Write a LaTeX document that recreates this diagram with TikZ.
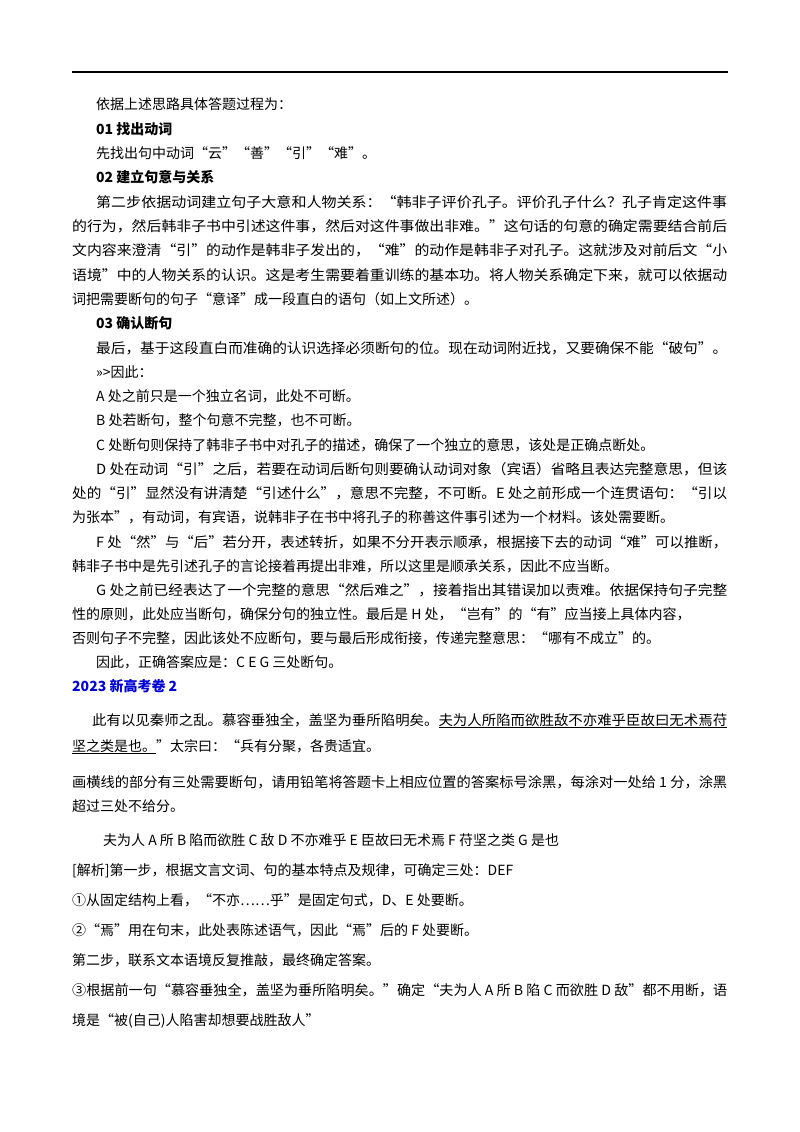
\documentclass[tikz,border=0pt]{standalone}
\usepackage{fontspec}
\usepackage{graphicx}
\setmainfont{Noto Sans CJK SC}
\newcommand\fw[2]{\resizebox{#1pt}{\height}{#2}}
\newcommand\ul[1]{\underline{#1}}
\begin{document}
\begin{tikzpicture}[x=1pt,y=-1pt,
  tl/.style={anchor=base west,inner sep=0pt,font=\fontsize{14}{16}\selectfont},
  hd/.style={tl,font=\fontsize{14}{16}\selectfont\bfseries}]
\useasboundingbox (0,0) rectangle (800,1132);
\draw[line width=1.6pt] (72,72) -- (728,72);
\node[tl] (l1) at (96,109) {依据上述思路具体答题过程为：};
\node[hd] (l2) at (96,134) {01 找出动词};
\node[tl] (l3) at (96,158) {先找出句中动词“云”“善”“引”“难”。};
\node[hd] (l4) at (96,182) {02 建立句意与关系};
\node[tl] (l5) at (96,207) {\fw{631}{第二步依据动词建立句子大意和人物关系：“韩非子评价孔子。评价孔子什么？孔子肯定这件事}};
\node[tl] (l6) at (72,231) {\fw{655}{的行为，然后韩非子书中引述这件事，然后对这件事做出非难。”这句话的句意的确定需要结合前后}};
\node[tl] (l7) at (72,255) {\fw{655}{文内容来澄清“引”的动作是韩非子发出的，“难”的动作是韩非子对孔子。这就涉及对前后文“小}};
\node[tl] (l8) at (72,280) {\fw{655}{语境”中的人物关系的认识。这是考生需要着重训练的基本功。将人物关系确定下来，就可以依据动}};
\node[tl] (l9) at (72,304) {词把需要断句的句子“意译”成一段直白的语句（如上文所述）。};
\node[hd] (l10) at (96,328) {03 确认断句};
\node[tl] (l11) at (96,353) {\fw{631}{最后，基于这段直白而准确的认识选择必须断句的位。现在动词附近找，又要确保不能“破句”。}};
\node[tl] (l12) at (96,377) {>>>因此：};
\node[tl] (l13) at (96,401) {A 处之前只是一个独立名词，此处不可断。};
\node[tl] (l14) at (96,425) {B 处若断句，整个句意不完整，也不可断。};
\node[tl] (l15) at (96,450) {C 处断句则保持了韩非子书中对孔子的描述，确保了一个独立的意思，该处是正确点断处。};
\node[tl] (l16) at (96,474) {\fw{631}{D 处在动词“引”之后，若要在动词后断句则要确认动词对象（宾语）省略且表达完整意思，但该}};
\node[tl] (l17) at (72,498) {\fw{655}{处的“引”显然没有讲清楚“引述什么”，意思不完整，不可断。E 处之前形成一个连贯语句：“引以}};
\node[tl] (l18) at (72,522) {为张本”，有动词，有宾语，说韩非子在书中将孔子的称善这件事引述为一个材料。该处需要断。};
\node[tl] (l19) at (96,547) {\fw{631}{F 处“然”与“后”若分开，表述转折，如果不分开表示顺承，根据接下去的动词“难”可以推断，}};
\node[tl] (l20) at (72,571) {韩非子书中是先引述孔子的言论接着再提出非难，所以这里是顺承关系，因此不应当断。};
\node[tl] (l21) at (96,595) {\fw{631}{G 处之前已经表达了一个完整的意思“然后难之”，接着指出其错误加以责难。依据保持句子完整}};
\node[tl] (l22) at (72,619) {性的原则，此处应当断句，确保分句的独立性。最后是 H 处，“岂有”的“有”应当接上具体内容，};
\node[tl] (l23) at (72,643) {否则句子不完整，因此该处不应断句，要与最后形成衔接，传递完整意思：“哪有不成立”的。};
\node[tl] (l24) at (96,667) {因此，正确答案应是：C E G 三处断句。};
\node[hd,text=blue!85!black] (l25) at (72,691) {2023 新高考卷 2};
\node[tl] (l26) at (92,725) {\fw{635}{此有以见秦师之乱。慕容垂独全，盖坚为垂所陷明矣。\ul{夫为人所陷而欲胜敌不亦难乎臣故曰无术焉苻}}};
\node[tl] (l27) at (72,751) {\ul{坚之类是也。}”太宗曰：“兵有分聚，各贵适宜。};
\node[tl] (l28) at (72,787) {\fw{655}{画横线的部分有三处需要断句，请用铅笔将答题卡上相应位置的答案标号涂黑，每涂对一处给 1 分，涂黑}};
\node[tl] (l29) at (72,811) {超过三处不给分。};
\node[tl] (l30) at (103,845) {夫为人 A 所 B 陷而欲胜 C 敌 D 不亦难乎 E 臣故曰无术焉 F 苻坚之类 G 是也};
\node[tl] (l31) at (72,875) {[解析]第一步，根据文言文词、句的基本特点及规律，可确定三处：DEF};
\node[tl] (l32) at (72,905) {①从固定结构上看，“不亦……乎”是固定句式，D、E 处要断。};
\node[tl] (l33) at (72,935) {②“焉”用在句末，此处表陈述语气，因此“焉”后的 F 处要断。};
\node[tl] (l34) at (72,965) {第二步，联系文本语境反复推敲，最终确定答案。};
\node[tl] (l35) at (72,995) {\fw{655}{③根据前一句“慕容垂独全，盖坚为垂所陷明矣。”确定“夫为人 A 所 B 陷 C 而欲胜 D 敌”都不用断，语}};
\node[tl] (l36) at (72,1025) {境是“被(自己)人陷害却想要战胜敌人”};
\end{tikzpicture}
\end{document}
